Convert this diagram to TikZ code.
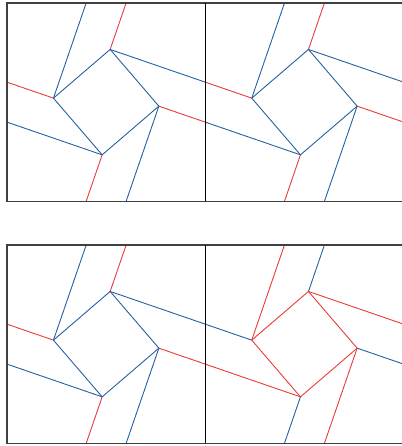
\documentclass[tikz,border=0pt]{standalone}
\definecolor{mred}{RGB}{236,58,58}
\definecolor{mblue}{RGB}{38,96,160}
\tikzset{
  crease/.style={line width=0.9pt, line join=round},
  frameline/.style={draw=black!75, line width=1.3pt},
  midline/.style={draw=black, line width=1pt}
}
\newcommand\twistpanel[4]{%
  \begin{scope}[shift={(#1,#2)}]
    \clip (0,0) rectangle (198.3,198.3);
    \coordinate (A) at (46.45,95.15);
    \coordinate (B) at (103.15,46.45);
    \coordinate (C) at (151.85,103.15);
    \coordinate (D) at (95.15,151.85);
    \coordinate (Bl) at (-95.15,46.45);
    \coordinate (Cu) at (151.85,-95.15);
    \coordinate (Dr) at (293.45,151.85);
    \coordinate (Ad) at (46.45,293.45);
    \coordinate (Du) at (95.15,-46.45);
    \coordinate (Ar) at (244.75,95.15);
    \coordinate (Bd) at (103.15,244.75);
    \coordinate (Cl) at (-46.45,103.15);
    \draw[crease,#3] (A) -- (Bl) (B) -- (Cu) (C) -- (Dr) (D) -- (Ad);
    \draw[crease,#4] (A) -- (Du) (B) -- (Ar) (C) -- (Bd) (D) -- (Cl);
    \draw[crease,#4] (A) -- (B) -- (C) -- (D) -- cycle;
  \end{scope}%
}
\begin{document}
\begin{tikzpicture}[x=1pt,y=-1pt]
  \useasboundingbox (0,0) rectangle (401,446);
  \twistpanel{7}{3}{mred}{mblue}
  \twistpanel{205.3}{3}{mred}{mblue}
  \twistpanel{7}{245}{mred}{mblue}
  \twistpanel{205.3}{245}{mblue}{mred}
  \draw[frameline] (7,3) rectangle (403.6,201.3);
  \draw[midline] (205.3,3) -- (205.3,201.3);
  \draw[frameline] (7,245) rectangle (403.6,443.3);
  \draw[midline] (205.3,245) -- (205.3,443.3);
\end{tikzpicture}
\end{document}
